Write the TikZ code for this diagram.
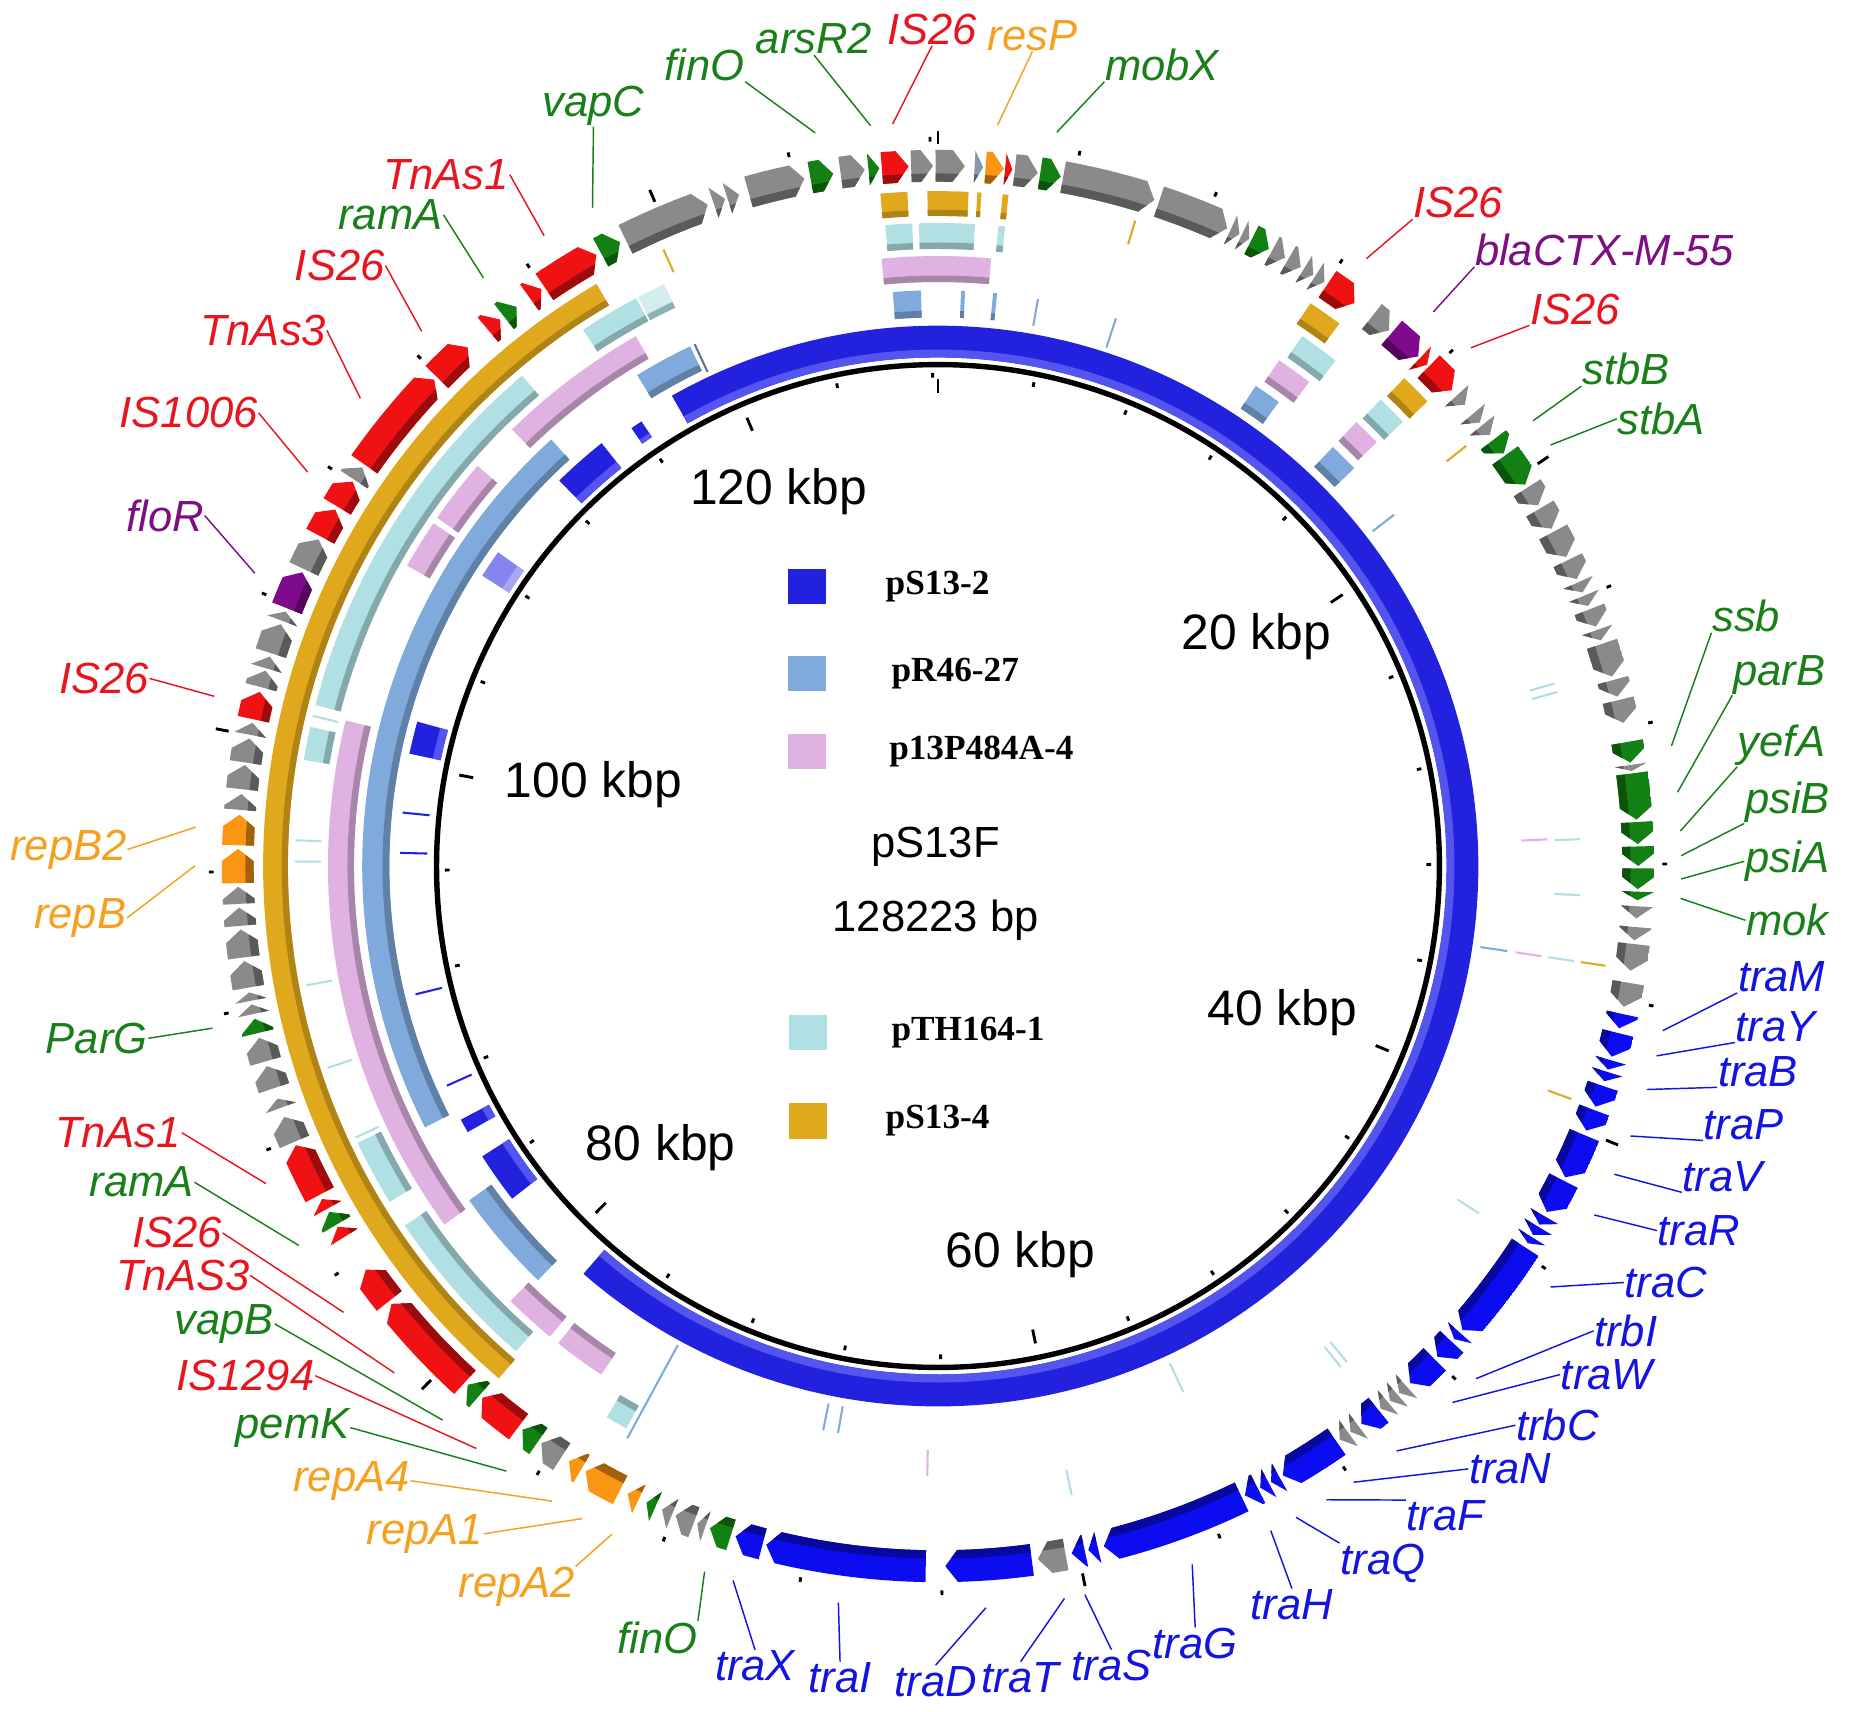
\documentclass[tikz,border=0pt]{standalone}
\usepackage{fontspec}
\setmainfont{Liberation Sans}
\newfontfamily\legendfont{Liberation Serif}
\usetikzlibrary{calc}

% gene colours
\definecolor{gGray}{RGB}{138,138,138}
\definecolor{gRed}{RGB}{240,18,18}
\definecolor{gGreen}{RGB}{18,128,18}
\definecolor{gOrange}{RGB}{250,150,20}
\definecolor{gPurple}{RGB}{128,10,140}
\definecolor{gBlue}{RGB}{12,12,240}
% label colours
\definecolor{labred}{RGB}{232,20,30}
\definecolor{labgreen}{RGB}{25,128,25}
\definecolor{laborange}{RGB}{245,160,30}
\definecolor{labpurple}{RGB}{125,15,130}
\definecolor{labblue}{RGB}{20,20,225}
% comparison rings
\definecolor{ringA}{RGB}{34,34,222}   % pS13-2
\definecolor{ringAsh}{RGB}{84,84,238}
\definecolor{ringB}{RGB}{128,170,220} % pR46-27
\definecolor{ringC}{RGB}{224,178,226} % p13P484A-4
\definecolor{ringD}{RGB}{176,224,228} % pTH164-1
\definecolor{ringE}{RGB}{224,168,28}  % pS13-4

% gene track radii
\def\rgi{580}\def\rgo{607}\def\rgm{593.5}

% gene arrow: start, end (degrees clockwise from top), colour
\newcommand{\gene}[3]{%
  \pgfmathsetmacro{\gA}{#1-90}%
  \pgfmathsetmacro{\gB}{#2-90}%
  \pgfmathsetmacro{\gH}{\gB-min(1.0,#2-#1)}%
  \begin{scope}
    \clip (\gA:\rgi) arc[start angle=\gA,end angle=\gH,radius=\rgi] -- (\gB:\rgm)
      -- (\gH:\rgo) arc[start angle=\gH,end angle=\gA,radius=\rgo] -- cycle;
    \fill[#3] (0,0) circle[radius=\rgo];
    \fill[#3!65!black] (0,0) circle[radius=587];
  \end{scope}}

% ring block: start, end, inner r, outer r, colour, shade
\newcommand{\blk}[6]{%
  \pgfmathsetmacro{\bA}{#1-90}%
  \pgfmathsetmacro{\bB}{#2-90}%
  \pgfmathsetmacro{\bM}{#3+0.25*(#4-#3)}%
  \fill[#5] (\bA:#3) arc[start angle=\bA,end angle=\bB,radius=#3]
    -- (\bB:#4) arc[start angle=\bB,end angle=\bA,radius=#4] -- cycle;
  \fill[#6] (\bA:#3) arc[start angle=\bA,end angle=\bB,radius=#3]
    -- (\bB:\bM) arc[start angle=\bB,end angle=\bA,radius=\bM] -- cycle;}

\begin{document}
\begin{tikzpicture}[x=0.01cm, y=-0.01cm,
  glab/.style={font=\fontsize{10.5}{12}\selectfont\itshape, inner sep=0pt},
  leader/.style={line width=0.35pt},
  kbp/.style={font=\fontsize{12}{14}\selectfont},
  ctr/.style={font=\fontsize{10.5}{12}\selectfont},
  legsq/.style={minimum width=3.2mm, minimum height=3mm, inner sep=0pt},
  legtxt/.style={font=\legendfont\bfseries\fontsize{8.5}{10}\selectfont, anchor=west, inner sep=0pt}]
\useasboundingbox (0,0) rectangle (1568,1451);
\fill[white] (0,0) rectangle (1568,1451);

\begin{scope}[shift={(795,734)}]
% pS13-2
\foreach \sa/\sb in {-29.5/221, 315.5/321.5, 282/285.5, 232/237.5, 240.5/242}
  {\blk{\sa}{\sb}{431}{458}{ringA}{ringAsh}}
\blk{302.5}{305.5}{431}{458}{ringA!55!white}{ringA!40!white}
\blk{325}{326.3}{437}{453}{ringA}{ringAsh}
% pR46-27
\foreach \sa/\sb in {224/234.5, 243/317.8, 328.5/334.5, 355.5/358.3, 33.5/36.3, 43.3/46.3, 2.3/2.7, 5.5/5.9}
  {\blk{\sa}{\sb}{465}{488}{ringB}{ringB!75!black}}
% p13P484A-4
\foreach \sa/\sb in {-5.3/5, 34/37.5, 43.3/46, 315.7/330.3, 304.8/311, 299.5/304.2, 234/283.8, 219.5/224.5, 213.5/218.5}
  {\blk{\sa}{\sb}{495}{517}{ringC}{ringC!75!black}}
% pTH164-1
\foreach \sa/\sb in {-4.7/-2.3, -1.7/3.3, 5.4/6, 34.5/38.2, 43.5/46.3, 326.5/332, 284.5/319.7, 279.5/282.5, 238.5/244.5, 221/236, 209/211}
  {\blk{\sa}{\sb}{523}{545}{ringD}{ringD!75!black}}
\blk{332.2}{334.8}{523}{545}{ringD!55!white}{ringD!80!black}
% pS13-4
\foreach \sa/\sb in {-4.9/-2.6, -0.9/2.6, 3.35/3.7, 5.5/6, 33.5/36.5, 43.7/46.5, 220.6/329.6}
  {\blk{\sa}{\sb}{551}{572}{ringE}{ringE!78!black}}
% small hits
\foreach \ang/\ra/\rb/\col in {10/465/488/ringB, 18/462/488/ringB, 335/462/488/ringB!70!black,
  336/551/572/ringE, 17/551/572/ringE, 52.4/465/488/ringB, 51.5/551/572/ringE,
  73.5/523/545/ringD, 74.3/523/545/ringD, 87.5/495/517/ringC, 87.6/523/545/ringD,
  92.6/523/545/ringD, 98.5/465/488/ringB, 98.5/495/517/ringC, 98.5/523/545/ringD,
  98.5/551/572/ringE, 110.2/551/572/ringE, 122.7/523/545/ringD, 140.5/523/545/ringD,
  141.2/523/545/ringD, 155/465/492/ringD, 168/523/545/ringD, 181/495/517/ringC,
  190/465/488/ringB, 191.5/465/488/ringB, 208.5/462/552/ringB, 272.3/523/545/ringD,
  270.4/523/545/ringD, 259.3/523/545/ringD, 251.7/523/545/ringD, 245/523/545/ringD,
  283.5/523/545/ringD, 275.7/433/456/ringA, 271.4/433/456/ringA, 256.2/433/456/ringA,
  245.9/433/456/ringA}
  {\draw[\col, line width=0.5pt] ({\ang-90}:\ra) -- ({\ang-90}:\rb);}

% backbone circle and ticks
\draw[line width=1.3pt] (0,0) circle[radius=425];
\foreach \k in {0,...,32} {
  \pgfmathsetmacro{\ta}{\k*11.2304-90}
  \pgfmathsetmacro{\ria}{mod(\k,5)==0 ? 401 : 414}
  \pgfmathsetmacro{\rib}{mod(\k,5)==0 ? 413 : 418}
  \pgfmathsetmacro{\roa}{mod(\k,5)==0 ? 612 : 614}
  \pgfmathsetmacro{\rob}{mod(\k,5)==0 ? 623 : 618}
  \draw[line width=0.7pt] (\ta:\ria) -- (\ta:\rib);
  \draw[line width=0.7pt] (\ta:\roa) -- (\ta:\rob);
}

% genes
\foreach \sa/\sb/\col in {
  331.2/333/gGreen, 349.5/351.4/gGreen, 354.3/355.2/gGreen, 8.4/10.1/gGreen, 26.6/28.2/gGreen,
  52.5/53.9/gGreen, 54.1/57/gGreen, 79.8/81.5/gGreen, 82.4/86.2/gGreen, 86.4/88.2/gGreen,
  88.4/90/gGreen, 90.2/91.9/gGreen, 92.1/92.8/gGreen, 197.2/199/gGreen, 203.8/204.6/gGreen,
  214.8/216.4/gGreen, 220.9/222.2/gGreen, 239.2/240.4/gGreen, 256.2/257.4/gGreen, 321.7/323/gGreen,
  333.5/340.8/gGray, 341.3/342.3/gGray, 342.5/343.5/gGray, 344.3/349/gGray, 352/354/gGray,
  357.8/359.6/gGray, -0.2/2.2/gGray, 6.3/8.2/gGray, 10.3/18/gGray, 18.4/24.4/gGray,
  24.7/25.5/gGray, 25.7/26.4/gGray, 28.5/29.7/gGray, 30/31.2/gGray, 31.5/32.4/gGray,
  32.6/33.5/gGray, 38.3/40.1/gGray, 47.8/48.8/gGray, 49.8/50.7/gGray, 51/52/gGray,
  57.3/59/gGray, 59.3/61.2/gGray, 61.5/63.8/gGray, 64.1/65.8/gGray, 66.1/67/gGray,
  67.3/68.2/gGray, 68.5/70/gGray, 70.3/71.2/gGray, 71.5/74.3/gGray, 74.6/76/gGray,
  76.3/78.2/gGray, 81.7/82.2/gGray, 93.3/94.3/gGray, 95/96.1/gGray, 96.4/98.6/gGray,
  99.6/101.6/gGray, 138/138.8/gGray, 139/139.8/gGray, 140/140.8/gGray, 143.1/143.9/gGray,
  144.1/145/gGray, 169.5/171.8/gGray, 199.4/200.1/gGray, 200.4/202/gGray, 202.3/203.2/gGray,
  212.5/214.5/gGray, 246.8/249/gGray, 249.8/250.6/gGray, 251.5/253.4/gGray, 253.8/255.8/gGray,
  257.8/258.6/gGray, 258.9/259.6/gGray, 260/262.2/gGray, 262.5/264.8/gGray, 265.1/266.6/gGray,
  266.9/268.3/gGray, 274.6/275.9/gGray, 276.3/278.3/gGray, 278.5/280.5/gGray, 280.8/281.8/gGray,
  284.8/286.2/gGray, 286.4/287.4/gGray, 287.7/290.2/gGray, 290.5/291.3/gGray, 295.1/297.8/gGray,
  303.5/304.7/gGray, 3/3.7/gGray!60!ringB,
  355.4/357.6/gRed, 5.5/6.1/gRed, 33.8/36.5/gRed, 43.5/44.3/gRed, 44.5/47.2/gRed,
  216.8/220.6/gRed, 222.5/231.3/gRed, 231.6/234.8/gRed, 238/239/gRed, 240.7/241.6/gRed,
  242/246.5/gRed, 282.1/284.4/gRed, 298.1/300.6/gRed, 300.9/303.3/gRed, 305/314/gRed,
  314.3/317.8/gRed, 320/321.3/gRed, 324.3/325.5/gRed, 325.8/330.8/gRed,
  3.9/5.4/gOrange, 205.3/206.3/gOrange, 207/210.2/gOrange, 210.6/211.8/gOrange,
  268.6/271.4/gOrange, 271.7/274.2/gOrange,
  40.4/43.3/gPurple, 291.6/294.8/gPurple,
  102.2/103.4/gBlue, 103.8/105.8/gBlue, 106.1/106.9/gBlue, 107.1/107.9/gBlue, 108.3/110.1/gBlue,
  110.4/112.2/gBlue, 112.6/116.4/gBlue, 116.7/119.6/gBlue, 120/120.8/gBlue, 121/121.8/gBlue,
  122/122.6/gBlue, 123/131.5/gBlue, 131.8/132.5/gBlue, 132.8/134.5/gBlue, 134.8/137.6/gBlue,
  141/142.8/gBlue, 145.3/150.5/gBlue, 150.8/151.6/gBlue, 151.8/152.6/gBlue, 152.8/154/gBlue,
  154.3/166.3/gBlue, 166.8/167.6/gBlue, 167.9/169/gBlue, 172.3/179.4/gBlue, 181/194.2/gBlue,
  194.5/196.8/gBlue}
  {\gene{\sa}{\sb}{\col}}
\end{scope}

% gene labels and leaders
\foreach \nm/\ang/\x/\y/\col/\txt/\an in {
  lvapC/332.3/503/90/labgreen/vapC/south,
  lfinOa/350.5/597/55/labgreen/finO/south east,
  larsR/354.8/690/33/labgreen/arsR2/south,
  lISa/356.5/790/25/labred/IS26/south,
  lresP/4.6/875/30/laborange/resP/south,
  lmobX/9.2/985/55/labgreen/mobX/south west,
  lISb/35.2/1236/172/labred/IS26/south west,
  lbla/41.8/1360/212/labpurple/blaCTX-M-55/south west,
  lISc/45.8/1335/262/labred/IS26/south west,
  lstbB/53.2/1378/313/labgreen/stbB/south west,
  lstbA/55.5/1408/355/labgreen/stbA/west,
  lssb/80.7/1480/522/labgreen/ssb/south west,
  lparB/84.3/1508/572/labgreen/parB/south west,
  lyefA/87.3/1510/632/labgreen/yefA/south west,
  lpsiB/89.2/1515/680/labgreen/psiB/south west,
  lpsiA/91/1515/730/labgreen/psiA/west,
  lmok/92.5/1515/780/labgreen/mok/west,
  ltraM/102.8/1510/828/labblue/traM/south west,
  ltraY/104.8/1505/870/labblue/traY/south west,
  ltraB/107.5/1490/908/labblue/traB/south west,
  ltraP/111.3/1478/953/labblue/traP/south west,
  ltraV/114.5/1460/997/labblue/traV/south west,
  ltraR/118/1440/1043/labblue/traR/west,
  ltraC/124.5/1412/1087/labblue/traC/west,
  ltrbI/133.6/1378/1128/labblue/trbI/west,
  ltraW/136.2/1362/1165/labblue/traW/west,
  ltrbC/141.9/1320/1208/labblue/trbC/west,
  ltraN/146/1280/1245/labblue/traN/west,
  ltraF/148.5/1225/1285/labblue/traF/north west,
  ltraQ/151.2/1172/1325/labblue/traQ/north west,
  ltraH/153.4/1095/1360/labblue/traH/north,
  ltraG/160/1013/1393/labblue/traG/north,
  ltraS/168.6/942/1412/labblue/traS/north,
  ltraT/170.2/865/1422/labblue/traT/north,
  ltraD/176.3/793/1425/labblue/traD/north,
  ltraI/187.7/712/1422/labblue/traI/north,
  ltraX/196/640/1412/labblue/traX/north,
  lfinOb/198.3/557/1388/labgreen/finO/north east,
  lrepAb/206/438/1345/laborange/repA2/north east,
  lrepAa/208.6/360/1300/laborange/repA1/east,
  lrepAd/211.3/298/1255/laborange/repA4/east,
  lpemK/215.5/248/1210/labgreen/pemK/east,
  lISe/218.4/208/1166/labred/IS1294/east,
  lvapB/221.8/190/1122/labgreen/vapB/east,
  lTnd/227/155/1081/labred/TnAS3/east,
  lISd/233.1/150/1045/labred/IS26/east,
  lramb/239.3/120/1002/labgreen/ramA/east,
  lTnc/244.7/100/960/labred/TnAs1/east,
  lParG/257.4/82/880/labgreen/ParG/east,
  lrepB/270/68/778/laborange/repB/east,
  lrepBb/273/58/720/laborange/repB2/east,
  lISf/283.2/88/575/labred/IS26/east,
  lfloR/293.2/140/437/labpurple/floR/east,
  lISg/302/160/350/labred/IS1006/east,
  lTnb/309/223/280/labred/TnAs3/east,
  lISh/316/288/225/labred/IS26/east,
  lrama/322.3/331/182/labgreen/ramA/east,
  lTna/328/378/148/labred/TnAs1/east}
{
  \node[glab, text=\col] (\nm) at (\x,\y) {\txt};
  \path (795,734) ++({\ang-90}:630) coordinate (\nm g);
  \draw[\col, leader] (\nm.\an) -- (\nm g);
}

% scale labels
\node[kbp] (k120) at (660,417) {120 kbp};
\node[kbp] (k20) at (1065,540) {20 kbp};
\node[kbp] (k100) at (503,665) {100 kbp};
\node[kbp] (k40) at (1087,858) {40 kbp};
\node[kbp] (k80) at (560,973) {80 kbp};
\node[kbp] (k60) at (865,1063) {60 kbp};

% title
\node[ctr] (pname) at (793,718) {pS13F};
\node[ctr] (psize) at (793,780) {128223 bp};

% legend
\node[legsq, fill=ringA] (sqA) at (684,497) {};
\node[legtxt] (txA) at (750,497) {pS13-2};
\node[legsq, fill=ringB] (sqB) at (684,571) {};
\node[legtxt] (txB) at (755,571) {pR46-27};
\node[legsq, fill=ringC] (sqC) at (684,637) {};
\node[legtxt] (txC) at (753,637) {p13P484A-4};
\node[legsq, fill=ringD] (sqD) at (685,875) {};
\node[legtxt] (txD) at (755,875) {pTH164-1};
\node[legsq, fill=ringE] (sqE) at (685,950) {};
\node[legtxt] (txE) at (750,950) {pS13-4};
\end{tikzpicture}
\end{document}
